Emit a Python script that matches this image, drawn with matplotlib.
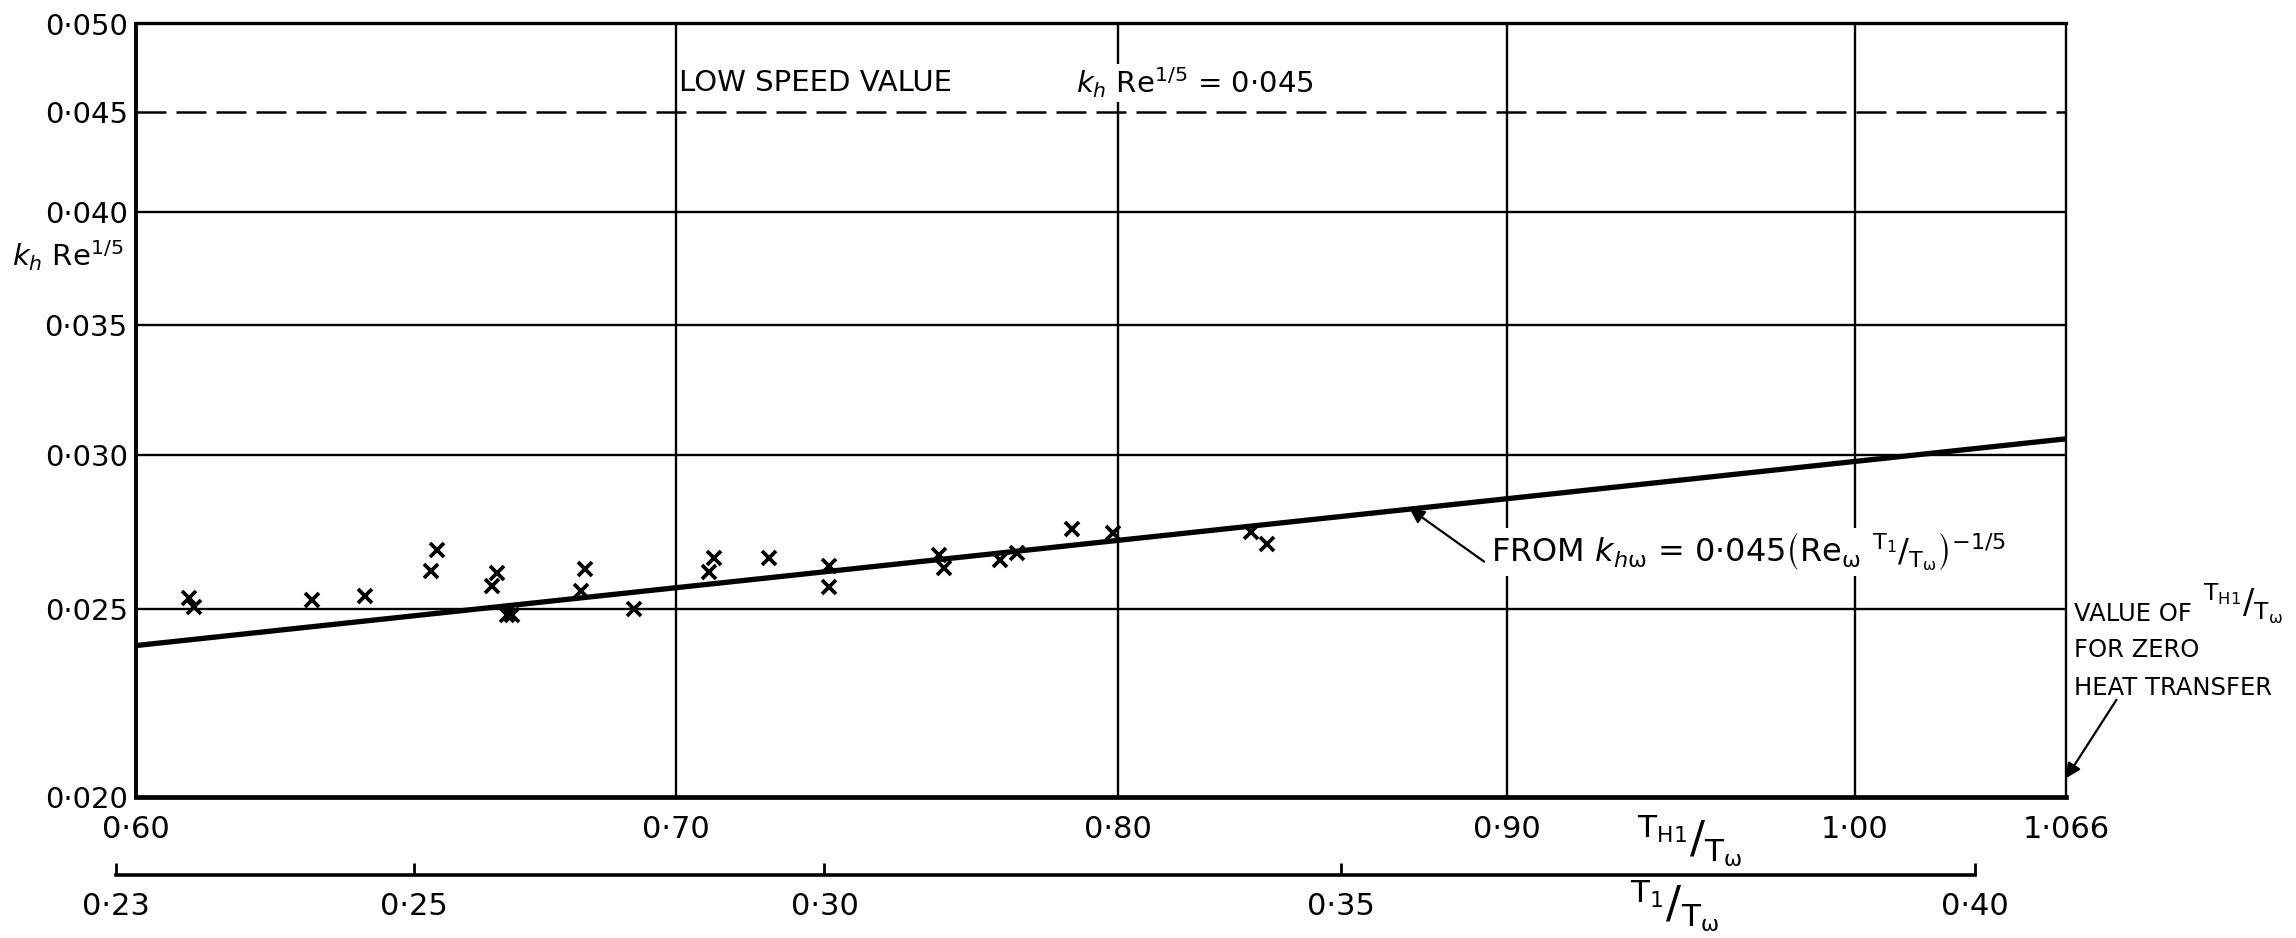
import numpy as np
import matplotlib
matplotlib.use('Agg')
import matplotlib.pyplot as plt
import matplotlib.ticker as ticker

plt.rcParams['font.family'] = ['DejaVu Sans']
plt.rcParams['mathtext.fontset'] = 'dejavusans'
plt.rcParams['mathtext.default'] = 'regular'

# T_H1/T_w (main scale) and k_h Re^1/5 for the test points
TH1_PTS = [0.604, 0.605, 0.627, 0.637, 0.651, 0.650, 0.663, 0.662, 0.665, 0.666,
           0.681, 0.680, 0.691, 0.708, 0.707, 0.720, 0.733, 0.733, 0.758, 0.759,
           0.772, 0.776, 0.789, 0.799, 0.833, 0.837]
KH_PTS = [0.02531, 0.02504, 0.02526, 0.02538, 0.02680, 0.02615, 0.02607, 0.02568, 0.02481, 0.02481,
          0.02620, 0.02554, 0.02498, 0.02654, 0.02612, 0.02654, 0.02630, 0.02564, 0.02664, 0.02622,
          0.02648, 0.02670, 0.02746, 0.02735, 0.02739, 0.02699]

# line from k_hw = 0.045 (Re_w T1/Tw)^-1/5
LINE_TH1 = [0.5944, 1.066]
LINE_KH = [0.02393, 0.03057]
LOW_SPEED = 0.045

# axes
X_RANGE = (0.5944, 1.066)
Y_RANGE = (0.020, 0.050)
X_TICKS = [0.5944, 0.70, 0.80, 0.90, 1.00, 1.066]
X_LABELS = ['0·60', '0·70', '0·80', '0·90', '1·00', '1·066']
Y_TICKS = [0.020, 0.025, 0.030, 0.035, 0.040, 0.045, 0.050]
Y_LABELS = ['0·020', '0·025', '0·030', '0·035', '0·040', '0·045', '0·050']
H_GRID = [0.025, 0.030, 0.035, 0.040]
V_GRID = [0.70, 0.80, 0.90, 1.00]

# T1/Tw scale and the matching T_H1/T_w values
T1_TICKS = [0.23, 0.25, 0.30, 0.35, 0.40]
T1_LABELS = ['0·23', '0·25', '0·30', '0·35', '0·40']
TH1_AT_T1 = [0.5908, 0.6466, 0.7321, 0.8559, 1.0369]

# zero heat transfer point on the right edge
ZERO_HT = (1.066, 0.02045)

W, H = 2296, 938
AX_L, AX_R, AX_T, AX_B = 136, 2066, 23.5, 797     # plot frame, pixels
SEC_L, SEC_Y = 100, 875                            # T1/Tw scale strip

fig = plt.figure(figsize=(W / 100, H / 100), dpi=100)
ax = fig.add_axes([AX_L / W, 1 - AX_B / H, (AX_R - AX_L) / W, (AX_B - AX_T) / H])
ax.set_xscale('log')
ax.set_yscale('log')
ax.set_xlim(*X_RANGE)
ax.set_ylim(*Y_RANGE)

for y in H_GRID:
    ax.axhline(y, color='k', lw=1.7, zorder=1)
for x in V_GRID:
    ax.axvline(x, color='k', lw=1.7, zorder=1)
ax.axhline(LOW_SPEED, color='k', lw=1.8, dashes=(12, 4), zorder=1)

ax.plot(LINE_TH1, LINE_KH, color='k', lw=3.8, solid_capstyle='butt', zorder=4)
ax.plot(TH1_PTS, KH_PTS, ls='none', marker='x', ms=10.5, mew=2.7, color='k', zorder=5)

ax.xaxis.set_major_locator(ticker.FixedLocator(X_TICKS))
ax.xaxis.set_major_formatter(ticker.FixedFormatter(X_LABELS))
ax.yaxis.set_major_locator(ticker.FixedLocator(Y_TICKS))
ax.yaxis.set_major_formatter(ticker.FixedFormatter(Y_LABELS))
for axis in (ax.xaxis, ax.yaxis):
    axis.set_minor_locator(ticker.NullLocator())
ax.tick_params(axis='x', length=0, pad=13, labelsize=22)
ax.tick_params(axis='y', length=0, pad=6, labelsize=21)

ax.spines['left'].set_linewidth(2.8)
ax.spines['bottom'].set_linewidth(3.4)
ax.spines['top'].set_linewidth(2.4)
ax.spines['right'].set_linewidth(1.7)

# T1/Tw scale: its own strip, same log mapping as the main x axis
span = np.log(X_RANGE[1] / X_RANGE[0])
x_lo = X_RANGE[0] * np.exp(-span * (AX_L - SEC_L) / (AX_R - AX_L))
ax2 = fig.add_axes([SEC_L / W, 1 - SEC_Y / H, (AX_R - SEC_L) / W, 0.0001])
ax2.set_xscale('log')
ax2.set_xlim(x_lo, X_RANGE[1])
ax2.patch.set_visible(False)
ax2.yaxis.set_visible(False)
for side in ('top', 'left', 'right'):
    ax2.spines[side].set_visible(False)
t1_pos = np.interp(T1_TICKS, T1_TICKS, TH1_AT_T1)
ax2.xaxis.set_major_locator(ticker.FixedLocator(t1_pos))
ax2.xaxis.set_major_formatter(ticker.FixedFormatter(T1_LABELS))
ax2.xaxis.set_minor_locator(ticker.NullLocator())
ax2.spines['bottom'].set_bounds(t1_pos[0], t1_pos[-1])
ax2.spines['bottom'].set_linewidth(2.6)
ax2.tick_params(axis='x', direction='in', length=9, width=2.0, pad=12, labelsize=22)

# labels
ax.text(-0.064, 0.70, r'$\mathit{k}_{\mathit{h}}$ Re$^{1/5}$', transform=ax.transAxes,
        fontsize=21, ha='left', va='center')
ax.text(0.7005, 0.0466, 'LOW SPEED VALUE', fontsize=21, ha='left', va='center')
ax.text(0.790, 0.0466, r'$\mathit{k}_{\mathit{h}}$ Re$^{1/5}$ = 0·045', fontsize=21,
        ha='left', va='center', zorder=3,
        bbox=dict(fc='white', ec='none', pad=1.5))
ax.text(0.8956, 0.02674,
        r'FROM $\mathit{k}_{\mathit{h}\omega}$ = 0·045$\left(Re_{\omega}\ {}^{T_1}/_{T_{\omega}}\right)^{-1/5}$',
        fontsize=23, ha='left', va='center', zorder=3,
        bbox=dict(fc='white', ec='none', pad=2))
ax.annotate('', xy=(0.8739, 0.02815), xytext=(0.8939, 0.02643),
            arrowprops=dict(arrowstyle='-|>', color='k', lw=1.6, mutation_scale=22,
                            shrinkA=0, shrinkB=0), zorder=6)

ax.text(1.004, 0.236, 'VALUE OF', transform=ax.transAxes, fontsize=17.5, ha='left', va='center')
ax.text(1.071, 0.250, r'${}^{T_{H1}}/_{T_{\omega}}$', transform=ax.transAxes,
        fontsize=24, ha='left', va='center')
ax.text(1.004, 0.190, 'FOR ZERO', transform=ax.transAxes, fontsize=17.5, ha='left', va='center')
ax.text(1.004, 0.141, 'HEAT TRANSFER', transform=ax.transAxes, fontsize=17.5, ha='left', va='center')
ax.annotate('', xy=ZERO_HT, xytext=(1.0824, 0.02244), annotation_clip=False,
            arrowprops=dict(arrowstyle='-|>', color='k', lw=1.6, mutation_scale=22,
                            shrinkA=0, shrinkB=0))

fig.text(1690 / W, 1 - 840 / H, r'${}^{T_{H1}}/_{T_{\omega}}$', fontsize=32,
         ha='center', va='center')
fig.text(1675 / W, 1 - 905 / H, r'${}^{T_1}/_{T_{\omega}}$', fontsize=32,
         ha='center', va='center')

fig.savefig('out.png', dpi=100)
